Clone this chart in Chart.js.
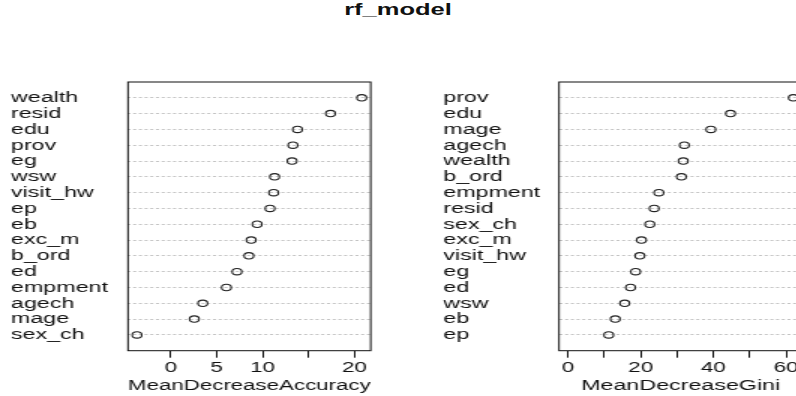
<!DOCTYPE html>
<html>
<head>
<meta charset="utf-8">
<script src="https://cdn.jsdelivr.net/npm/chart.js@4.4.1/dist/chart.umd.min.js"></script>
<style>
  html, body { margin: 0; padding: 0; background: #fff; overflow: hidden; }
  #page { position: relative; width: 796px; height: 396px; overflow: hidden; }
  .panel { position: absolute; top: 0; transform-origin: 0 0; }
  #title {
    position: absolute; top: 0; left: 0; height: 38px; line-height: 38px;
    text-align: center; transform-origin: 0 0;
    font: bold 17px "Liberation Sans", Arial, sans-serif; color: #111;
  }
</style>
</head>
<body>
<div id="page">
  <div id="title">rf_model</div>
  <div class="panel" id="leftPanel"><canvas id="accChart"></canvas></div>
  <div class="panel" id="rightPanel"><canvas id="giniChart"></canvas></div>
</div>
<script>
// variable importance, rows listed top to bottom
const accLabels = ['wealth', 'resid', 'edu', 'prov', 'eg', 'wsw', 'visit_hw', 'ep', 'eb',
                   'exc_m', 'b_ord', 'ed', 'empment', 'agech', 'mage', 'sex_ch'];
const accValues = [20.8, 17.4, 13.8, 13.3, 13.2, 11.3, 11.2, 10.8, 9.4,
                   8.75, 8.5, 7.2, 6.05, 3.47, 2.55, -3.7];
const accTicks = [0, 5, 10, 15, 20];
const accTickLabels = ['0', '5', '10', '', '20'];

const giniLabels = ['prov', 'edu', 'mage', 'agech', 'wealth', 'b_ord', 'empment', 'resid',
                    'sex_ch', 'exc_m', 'visit_hw', 'eg', 'ed', 'wsw', 'eb', 'ep'];
const giniValues = [62, 44.7, 39.3, 32.0, 31.7, 31.2, 25.0, 23.7,
                    22.5, 20.2, 19.75, 18.6, 17.2, 15.6, 13.0, 11.2];
const giniTicks = [0, 10, 20, 30, 40, 50, 60];
const giniTickLabels = ['0', '', '20', '', '40', '', '60'];

const S = 1.5;          // horizontal stretch of the whole picture
const FONT = 'Liberation Sans, Arial, sans-serif';
const FS = 15.5;

const title = document.getElementById('title');
title.style.width = (796 / S) + 'px';
title.style.transform = 'scaleX(' + S + ')';

// draws the closed box round the plot region
const boxPlugin = {
    id: 'box',
    afterDraw(chart) {
        const a = chart.chartArea;
        const ctx = chart.ctx;
        ctx.save();
        ctx.strokeStyle = '#111';
        ctx.lineWidth = 1;
        ctx.strokeRect(a.left, a.top, a.right - a.left, a.bottom - a.top);
        ctx.restore();
    }
};

// px values below are positions in the final (stretched) picture
function dotChart(canvasId, panelId, panelX, labelX, areaLeft, areaRight, labels, values, ticks, tickLabels, xlab, xmin, xmax) {
    const W = 420 / S;
    const panel = document.getElementById(panelId);
    panel.style.left = panelX + 'px';
    panel.style.transform = 'scaleX(' + S + ')';
    const canvas = document.getElementById(canvasId);
    canvas.width = W;
    canvas.height = 396;

    const n = labels.length;
    const padLeft = (labelX - panelX) / S;
    const yWidth = (areaLeft - panelX) / S - padLeft;
    const padRight = W - (areaRight - panelX) / S;
    const points = values.map((v, i) => ({ x: v, y: n - i }));

    return new Chart(canvas, {
        type: 'scatter',
        data: {
            datasets: [{
                data: points,
                pointStyle: 'circle',
                pointRadius: 3.2,
                pointBorderWidth: 1.1,
                pointBorderColor: '#222',
                pointBackgroundColor: 'rgba(0,0,0,0)'
            }]
        },
        options: {
            responsive: false,
            animation: false,
            layout: { padding: { left: padLeft, right: padRight, top: 82, bottom: 0 } },
            plugins: { legend: { display: false }, tooltip: { enabled: false } },
            scales: {
                x: {
                    type: 'linear',
                    min: xmin,
                    max: xmax,
                    afterBuildTicks: (scale) => { scale.ticks = ticks.map(v => ({ value: v })); },
                    afterFit: (scale) => { scale.height = 396 - 350.7; },
                    ticks: {
                        autoSkip: false,
                        maxRotation: 0,
                        padding: 2,
                        color: '#111',
                        font: { family: FONT, size: 15, lineHeight: 1.1 },
                        callback: (v) => tickLabels[ticks.indexOf(v)]
                    },
                    grid: { drawOnChartArea: false, color: '#111', tickLength: 7 },
                    border: { display: false },
                    title: {
                        display: true,
                        text: xlab,
                        color: '#111',
                        font: { family: FONT, size: 15.5, lineHeight: 1.1 },
                        padding: { top: 0, bottom: 2 }
                    }
                },
                y: {
                    type: 'linear',
                    min: 0,
                    max: n + 1,
                    afterBuildTicks: (scale) => {
                        scale.ticks = labels.map((l, i) => ({ value: n - i }));
                    },
                    afterFit: (scale) => { scale.width = yWidth; },
                    ticks: {
                        autoSkip: false,
                        crossAlign: 'far',
                        padding: 0,
                        color: '#111',
                        font: { family: FONT, size: FS },
                        callback: (v) => labels[n - v]
                    },
                    grid: { color: '#c4c4c4', drawTicks: false, lineWidth: 1 },
                    border: { display: false, dash: [2, 1.8] }
                }
            }
        },
        plugins: [boxPlugin]
    });
}

// R style range: data range widened by 4% each side (Gini starts at 0)
const accSpan = Math.max(...accValues) - Math.min(...accValues);
dotChart('accChart', 'leftPanel', 0, 11, 128, 370.7, accLabels, accValues, accTicks, accTickLabels,
         'MeanDecreaseAccuracy',
         Math.min(...accValues) - 0.04 * accSpan, Math.max(...accValues) + 0.04 * accSpan);

const giniMax = Math.max(...giniValues);
dotChart('giniChart', 'rightPanel', 420, 443.3, 559, 802.4, giniLabels, giniValues, giniTicks, giniTickLabels,
         'MeanDecreaseGini', -0.04 * giniMax, 1.04 * giniMax);
</script>
</body>
</html>
